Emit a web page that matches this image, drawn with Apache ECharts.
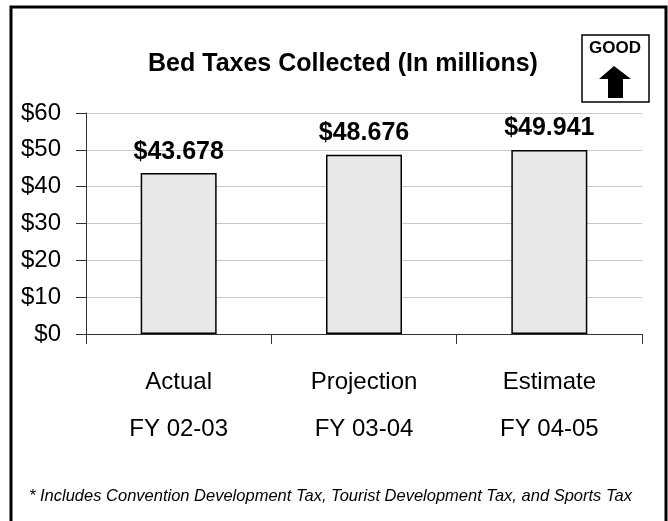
<!DOCTYPE html>
<html><head><meta charset="utf-8">
<script src="https://cdn.jsdelivr.net/npm/echarts@6/dist/echarts.min.js"></script>
<style>html,body{margin:0;padding:0;background:#fff}#c{width:668px;height:521px}</style>
</head><body><div id="c"></div>
<script>
const categories = ['Actual\nFY 02-03', 'Projection\nFY 03-04', 'Estimate\nFY 04-05'];
const values = [43.678, 48.676, 49.941];
const valueLabels = ['$43.678', '$48.676', '$49.941'];
const yTicks = [0, 10, 20, 30, 40, 50, 60];
const titleText = 'Bed Taxes Collected (In millions)';
const footnote = '* Includes Convention Development Tax, Tourist Development Tax, and Sports Tax';
const FONT = '"Liberation Sans Narrow", "Arial Narrow", "Liberation Sans", Arial, sans-serif';

const chart = echarts.init(document.getElementById('c'), null, {renderer: 'canvas'});
chart.setOption({
  animation: false,
  backgroundColor: '#fff',
  title: {
    text: titleText, left: 338, top: 47, textAlign: 'center',
    textStyle: {fontFamily: FONT, fontWeight: 'bold', fontSize: 25, color: '#000'}
  },
  grid: {left: 86, right: 26, top: 113, bottom: 187, containLabel: false},
  xAxis: {
    type: 'category', data: categories,
    axisLine: {lineStyle: {color: '#333', width: 1}},
    axisTick: {show: true, length: 10, lineStyle: {color: '#333'}},
    axisLabel: {fontFamily: FONT, fontSize: 24, color: '#000', lineHeight: 47, margin: 25}
  },
  yAxis: {
    type: 'value', min: 0, max: 60, interval: 10,
    axisLine: {show: true, lineStyle: {color: '#333', width: 1}},
    axisTick: {show: true, length: 10, lineStyle: {color: '#333'}},
    splitLine: {lineStyle: {color: '#c8c8c8', width: 1}},
    axisLabel: {fontFamily: FONT, fontSize: 24, color: '#000', margin: 25,
      formatter: v => yTicks.includes(v) ? '$' + v : ''}
  },
  series: [{
    type: 'bar', data: values, barWidth: '41%',
    itemStyle: {color: '#e8e8e8', borderColor: '#000', borderWidth: 1.5},
    label: {show: true, position: 'top', distance: 9,
      formatter: p => valueLabels[p.dataIndex],
      fontFamily: FONT, fontWeight: 'bold', fontSize: 25, color: '#000'}
  }],
  graphic: [
    {type: 'rect', shape: {x: 11, y: 7, width: 655, height: 530},
      style: {fill: 'none', stroke: '#000', lineWidth: 3}, silent: true},
    {type: 'rect', shape: {x: 582, y: 35, width: 67, height: 67},
      style: {fill: '#fff', stroke: '#000', lineWidth: 1.5}},
    {type: 'text', x: 615, y: 40, style: {text: 'GOOD', align: 'center', verticalAlign: 'top',
      font: 'bold 17px ' + FONT, fill: '#000'}},
    {type: 'polygon', shape: {points: [[614,66],[631,79],[623,79],[623,98],[608,98],[608,79],[599,79]]},
      style: {fill: '#000'}},
    {type: 'text', x: 29, y: 496, style: {text: footnote, align: 'left', verticalAlign: 'middle',
      font: 'italic 16.5px ' + FONT, fill: '#000'}}
  ]
});
</script></body></html>
